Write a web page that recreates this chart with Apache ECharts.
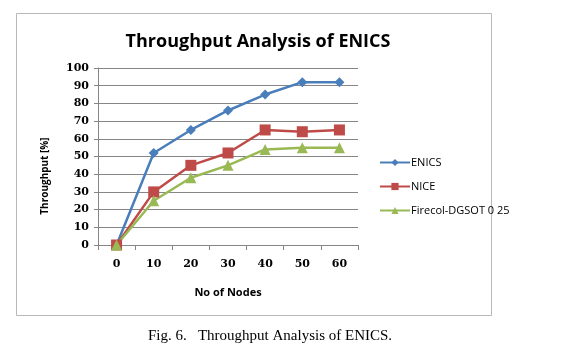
<!DOCTYPE html>
<html>
<head>
<meta charset="utf-8">
<script src="https://cdn.jsdelivr.net/npm/echarts@6/dist/echarts.min.js"></script>
<style>
  html, body { margin: 0; padding: 0; background: #fff; }
  #main { width: 576px; height: 353px; }
</style>
</head>
<body>
<div id="main"></div>
<script>
// data
const nodes = ['0', '10', '20', '30', '40', '50', '60']
const enics = [0, 52, 65, 76, 85, 92, 92]
const nice = [0, 30, 45, 52, 65, 64, 65]
const firecol = [0, 25, 38, 45, 54, 55, 55]
const yTicks = { min: 0, max: 100, interval: 10 }

const labelFont = { fontFamily: 'DejaVu Serif', fontSize: 11, color: '#000', fontWeight: 'bold' }

const chart = echarts.init(document.getElementById('main'))

const option = {
    animation: false,
    backgroundColor: '#fff',
    title: [
        {
            text: 'Throughput Analysis of ENICS',
            left: 253, top: 28, textAlign: 'center',
            textStyle: { fontFamily: 'Open Sans', fontSize: 18, fontWeight: 'bold', color: '#000' }
        },
        {
            text: 'Fig. 6.   Throughput Analysis of ENICS.',
            left: 265, top: 324, textAlign: 'center',
            textStyle: { fontFamily: 'Liberation Serif', fontSize: 15, fontWeight: 'normal', color: '#000' }
        }
    ],
    graphic: [
        {
            type: 'rect',
            shape: { x: 16.5, y: 13.5, width: 475, height: 302 },
            style: { fill: 'none', stroke: '#b8b8b8', lineWidth: 1 },
            z: -1
        },
        {
            // y axis title sits a bit below the middle in the original
            type: 'text',
            x: 45, y: 176,
            rotation: Math.PI / 2,
            style: {
                text: 'Throughput [%]',
                fontFamily: 'Open Sans', fontSize: 10, fontWeight: 'bold', fill: '#000',
                align: 'center', verticalAlign: 'middle'
            }
        }
    ],
    legend: {
        orient: 'vertical',
        left: 374, top: 152,
        itemWidth: 30, itemHeight: 9,
        itemGap: 13,
        textStyle: { fontFamily: 'Open Sans', fontSize: 11, color: '#000', padding: [0, 0, 0, -4] },
        data: ['ENICS', 'NICE', 'Firecol-DGSOT 0 25']
    },
    grid: { left: 98, right: 218, top: 68, bottom: 108 },
    xAxis: {
        type: 'category',
        data: nodes,
        boundaryGap: true,
        name: 'No of Nodes',
        nameLocation: 'middle',
        nameGap: 42,
        nameTextStyle: { fontFamily: 'Open Sans', fontSize: 11, fontWeight: 'bold', color: '#000' },
        axisLine: { lineStyle: { color: '#868686', width: 1 } },
        axisTick: { show: true, length: 5, lineStyle: { color: '#868686' } },
        axisLabel: Object.assign({ margin: 14 }, labelFont)
    },
    yAxis: {
        type: 'value',
        min: yTicks.min, max: yTicks.max, interval: yTicks.interval,
        axisLine: { show: true, lineStyle: { color: '#868686' } },
        axisTick: { show: true, length: 4, lineStyle: { color: '#868686' } },
        axisLabel: Object.assign({ margin: 9 }, labelFont),
        splitLine: { lineStyle: { color: '#868686', width: 1 } }
    },
    series: [
        {
            name: 'ENICS', type: 'line', data: enics,
            symbol: 'diamond', symbolSize: 10,
            color: '#4a7ebb',
            lineStyle: { width: 2.5 }
        },
        {
            name: 'NICE', type: 'line', data: nice,
            symbol: 'rect', symbolSize: 11,
            color: '#be4b48',
            lineStyle: { width: 2.5 }
        },
        {
            name: 'Firecol-DGSOT 0 25', type: 'line', data: firecol,
            symbol: 'triangle', symbolSize: 11,
            color: '#98b954',
            lineStyle: { width: 2.5 }
        }
    ]
}

chart.setOption(option)
</script>
</body>
</html>
